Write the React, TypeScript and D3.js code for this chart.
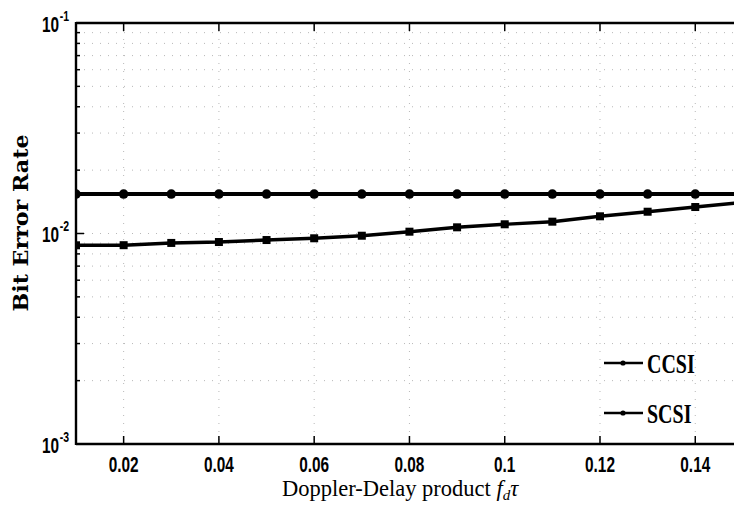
import React from "react";
import * as d3 from "d3";

const xValues = [0.01, 0.02, 0.03, 0.04, 0.05, 0.06, 0.07, 0.08, 0.09, 0.1, 0.11, 0.12, 0.13, 0.14, 0.15];
const ccsiValues = [0.00879, 0.0088, 0.00902, 0.00911, 0.00931, 0.00949, 0.00976, 0.0102, 0.0107, 0.01106, 0.01138, 0.01207, 0.01269, 0.01336, 0.01404];
const scsiValues = [0.0154, 0.0154, 0.0154, 0.0154, 0.0154, 0.0154, 0.0154, 0.0154, 0.0154, 0.0154, 0.0154, 0.0154, 0.0154, 0.0154, 0.0154];
const xTicks = [0.02, 0.04, 0.06, 0.08, 0.1, 0.12, 0.14];
const xTickLabels = ["0.02", "0.04", "0.06", "0.08", "0.1", "0.12", "0.14"];
const yDecades = [0.001, 0.01, 0.1];
const yDecadeExps = ["-3", "-2", "-1"];
const seriesNames = ["CCSI", "SCSI"];

const W = 734;
const H = 510;
const left = 76;
const top = 23;
const bottom = 444;
const right = 742.9;

export default function App() {
  const x = d3.scaleLinear().domain([0.01, 0.15]).range([left, right]);
  const y = d3.scaleLog().domain([0.001, 0.1]).range([bottom, top]);

  const minorY: number[] = [];
  [0.001, 0.01].forEach((d) => {
    for (let k = 2; k <= 9; k++) minorY.push(d * k);
  });

  const line = d3
    .line<number>()
    .x((_, i) => x(xValues[i]))
    .y((v) => y(v));

  const tickFont = "'Liberation Sans', Arial, sans-serif";
  const serif = "'Liberation Serif', 'Times New Roman', serif";

  const legendY = [363, 413];

  return (
    <svg
      width={W}
      height={H}
      style={{ position: "absolute", left: 0, top: 0, background: "#fff" }}
    >
      <defs>
        <clipPath id="plot">
          <rect x={left} y={top - 5} width={W - left} height={bottom - top + 10} />
        </clipPath>
      </defs>
      <rect x={0} y={0} width={W} height={H} fill="#fff" />

      {/* grid */}
      <g stroke="#b8b8b8" strokeWidth={1} strokeDasharray="1 7">
        {xTicks.map((t) => (
          <line key={"gx" + t} x1={x(t)} x2={x(t)} y1={top} y2={bottom} />
        ))}
        {minorY.concat([0.01]).map((t) => (
          <line key={"gy" + t} x1={left} x2={W} y1={y(t)} y2={y(t)} />
        ))}
      </g>

      {/* axes */}
      <g stroke="#000" fill="none">
        <line x1={left} x2={left} y1={top - 1} y2={bottom + 1} strokeWidth={2.4} />
        <line x1={left} x2={W} y1={top} y2={top} strokeWidth={2.4} />
        <line x1={left} x2={W} y1={bottom} y2={bottom} strokeWidth={2.4} />
        {xTicks.map((t) => (
          <g key={"tx" + t}>
            <line x1={x(t)} x2={x(t)} y1={bottom} y2={bottom - 8} strokeWidth={1.5} />
            <line x1={x(t)} x2={x(t)} y1={top} y2={top + 8} strokeWidth={1.5} />
          </g>
        ))}
        {yDecades.map((t) => (
          <line key={"ty" + t} x1={left} x2={left + 8} y1={y(t)} y2={y(t)} strokeWidth={1.5} />
        ))}
        {minorY.map((t) => (
          <line key={"mty" + t} x1={left} x2={left + 4} y1={y(t)} y2={y(t)} strokeWidth={1.5} />
        ))}
      </g>

      {/* x tick labels */}
      {xTicks.map((t, i) => (
        <text
          key={"xl" + t}
          transform={`translate(${x(t)},${472}) scale(0.7,1)`}
          textAnchor="middle"
          fontFamily={tickFont}
          fontWeight="bold"
          fontSize={22}
          fill="#000"
        >
          {xTickLabels[i]}
        </text>
      ))}

      {/* y tick labels */}
      {yDecades.map((t, i) => (
        <g key={"yl" + t} transform={`translate(${59},${y(t) + 8.5}) scale(0.7,1)`}>
          <text textAnchor="end" fontFamily={tickFont} fontWeight="bold" fontSize={22} fill="#000">
            10
          </text>
          <text x={1} y={-11} fontFamily={tickFont} fontWeight="bold" fontSize={15} fill="#000">
            {yDecadeExps[i]}
          </text>
        </g>
      ))}

      {/* data lines */}
      <g clipPath="url(#plot)">
        <path d={line(scsiValues) || ""} fill="none" stroke="#000" strokeWidth={4} />
        <path d={line(ccsiValues) || ""} fill="none" stroke="#000" strokeWidth={3.4} />
        {scsiValues.map((v, i) => (
          <circle key={"sc" + i} cx={x(xValues[i])} cy={y(v)} r={4.8} fill="#000" />
        ))}
        {ccsiValues.map((v, i) => (
          <rect
            key={"cc" + i}
            x={x(xValues[i]) - 4}
            y={y(v) - 4}
            width={8}
            height={8}
            fill="#000"
          />
        ))}
      </g>

      {/* legend */}
      {seriesNames.map((name, i) => (
        <g key={name}>
          <line x1={604} x2={643} y1={legendY[i]} y2={legendY[i]} stroke="#000" strokeWidth={2.6} />
          <circle cx={623} cy={legendY[i]} r={2.6} fill="#000" />
          <text
            transform={`translate(${647},${legendY[i] + 9.5}) scale(0.74,1)`}
            fontFamily={serif}
            fontWeight="bold"
            fontSize={27}
            fill="#000"
          >
            {name}
          </text>
        </g>
      ))}

      {/* axis titles */}
      <text
        transform={`translate(${28},${223}) rotate(-90)`}
        textAnchor="middle"
        fontFamily="'DejaVu Serif', serif"
        fontWeight="bold"
        fontSize={21}
        textLength={177}
        lengthAdjust="spacingAndGlyphs"
        fill="#000"
      >
        Bit Error Rate
      </text>
      <text x={282} y={496} fontFamily={serif} fontSize={22.5} fill="#000">
        Doppler-Delay product{" "}
        <tspan fontStyle="italic">f</tspan>
        <tspan fontStyle="italic" fontSize={15} dy={4}>
          d
        </tspan>
        <tspan fontStyle="italic" dy={-4}>
          τ
        </tspan>
      </text>
    </svg>
  );
}
